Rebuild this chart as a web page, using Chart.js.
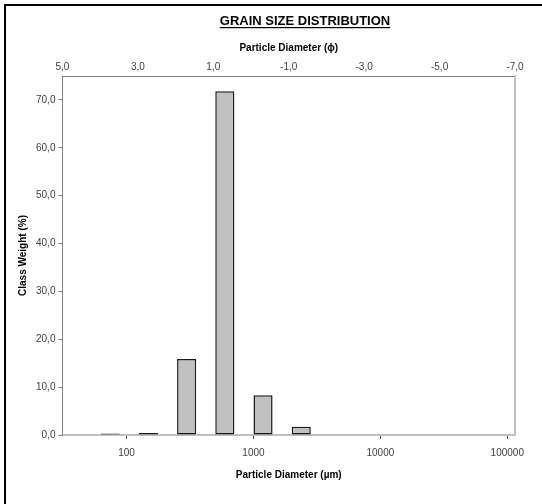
<!DOCTYPE html>
<html>
<head>
  <title>Grain Size Distribution</title>
  <script src="https://cdn.jsdelivr.net/npm/chart.js"></script>
  <style>
    body { margin: 0; background: #fff; overflow: hidden; }
    #wrap { position: relative; width: 542px; height: 504px; overflow: hidden; }
    #frame { position: absolute; left: 4px; top: 4px; width: 580px; height: 560px; border: 2px solid #000; pointer-events: none; }
  </style>
</head>
<body>
<div id="wrap">
  <canvas id="myChart" width="542" height="504"></canvas>
  <div id="frame"></div>
</div>

<script>
  // sieve classes, lower bound in phi (each class is half a phi wide)
  const phiClasses = [4, 3, 2, 1, 0, -1];
  const classWeight = [0.3, 0.4, 15.9, 71.8, 8.3, 1.7];   // %
  const umTicks = [100, 1000, 10000, 100000];
  const phiTicks = [5, 3, 1, -1, -3, -5, -7];
  const weightTicks = [0, 10, 20, 30, 40, 50, 60, 70];

  const comma = v => Number(v).toFixed(1).replace('.', ',');
  const umOfPhi = phi => 1000 * Math.pow(2, -phi);

  const bars = phiClasses.map((p, i) => ({ x: umOfPhi(p - 0.25), y: classWeight[i] }));

  const FONT = '"Liberation Sans", Arial, sans-serif';
  Chart.defaults.font.family = FONT;
  Chart.defaults.font.size = 10;
  Chart.defaults.color = '#404040';

  const axisTitle = (text, pad) => ({
    display: true, text: text, color: '#000',
    font: { size: 10, weight: 'bold' }, padding: pad || { top: 4, bottom: 4 }
  });

  // chart title drawn by hand so it can be underlined
  const titlePlugin = {
    id: 'gsdTitle',
    afterDraw(chart) {
      const ctx = chart.ctx;
      const text = 'GRAIN SIZE DISTRIBUTION';
      ctx.save();
      ctx.font = 'bold 13px ' + FONT;
      ctx.fillStyle = '#000';
      ctx.textAlign = 'center';
      ctx.textBaseline = 'alphabetic';
      ctx.fillText(text, 305, 25);
      const w = ctx.measureText(text).width;
      ctx.fillRect(305 - w / 2, 27, w, 1.2);
      ctx.restore();
    }
  };

  const ctx = document.getElementById('myChart').getContext('2d');
  new Chart(ctx, {
    type: 'bar',
    data: {
      datasets: [{
        data: bars,
        xAxisID: 'x',
        yAxisID: 'y',
        backgroundColor: '#c0c0c0',
        borderColor: '#1a1a1a',
        borderWidth: 1.5,
        borderSkipped: false,
        barPercentage: 1,
        categoryPercentage: 0.5
      }]
    },
    options: {
      responsive: false,
      animation: false,
      layout: { padding: { left: 13, right: 19, top: 38, bottom: 19 } },
      plugins: { legend: { display: false }, tooltip: { enabled: false } },
      scales: {
        x: {
          type: 'logarithmic', position: 'bottom', min: 31.25, max: 115000, offset: false,
          afterBuildTicks: s => { s.ticks = umTicks.map(v => ({ value: v })); },
          ticks: { callback: v => String(v), autoSkip: false, maxRotation: 0, padding: 8 },
          grid: { offset: false, drawOnChartArea: false, tickLength: 4, color: '#404040' },
          border: { color: '#bfbfbf', width: 2 },
          title: axisTitle('Particle Diameter (µm)', { top: 2, bottom: 4 })
        },
        x2: {
          type: 'linear', position: 'top', min: -7, max: 5, reverse: true, offset: false,
          afterBuildTicks: s => { s.ticks = phiTicks.map(v => ({ value: v })); },
          ticks: { callback: comma, autoSkip: false, maxRotation: 0, padding: 3 },
          grid: { offset: false, drawOnChartArea: false, drawTicks: false },
          border: { color: '#808080', width: 1 },
          title: axisTitle('Particle Diameter (ϕ)')
        },
        y: {
          min: 0, max: 75,
          afterBuildTicks: s => { s.ticks = weightTicks.map(v => ({ value: v })); },
          ticks: { callback: comma, padding: 3 },
          grid: { drawOnChartArea: false, tickLength: 4, color: '#808080' },
          border: { color: '#808080', width: 1 },
          title: axisTitle('Class Weight (%)')
        },
        y2: {
          position: 'right', min: 0, max: 75,
          ticks: { display: false },
          grid: { display: false },
          border: { color: '#bfbfbf', width: 2 }
        }
      }
    },
    plugins: [titlePlugin]
  });
</script>
</body>
</html>
